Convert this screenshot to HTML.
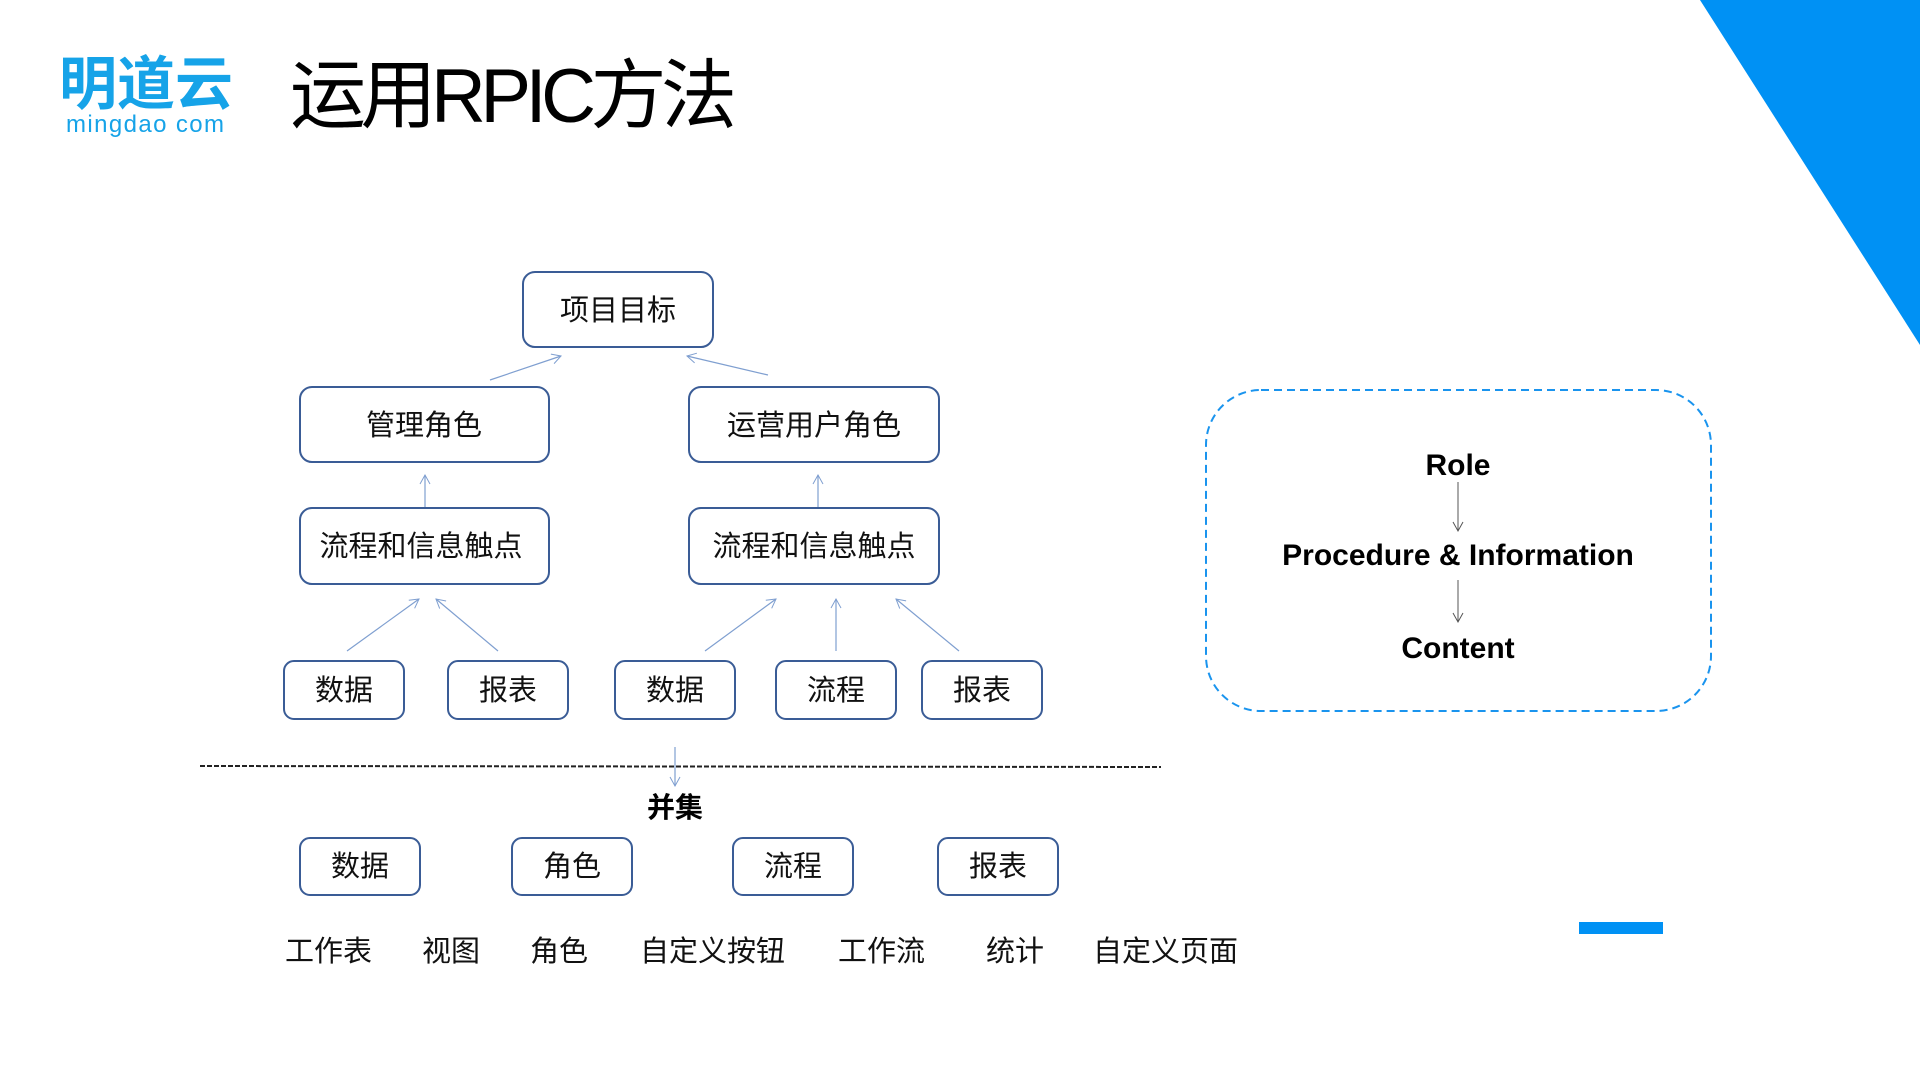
<!DOCTYPE html>
<html><head><meta charset="utf-8"><style>
html,body{margin:0;padding:0;background:#fff;}
body{width:1920px;height:1080px;position:relative;overflow:hidden;}
svg{position:absolute;left:0;top:0;}
</style></head><body>
<svg width="1920" height="1080" viewBox="0 0 1920 1080" xmlns="http://www.w3.org/2000/svg">
<defs>
<marker id="a" markerWidth="12" markerHeight="12" refX="10" refY="6" orient="auto" markerUnits="userSpaceOnUse">
<path d="M1,1 L10,6 L1,11" fill="none" stroke="#7f9fd0" stroke-width="1"/>
</marker>
<marker id="b" markerWidth="12" markerHeight="12" refX="10" refY="6" orient="auto" markerUnits="userSpaceOnUse">
<path d="M1,1 L10,6 L1,11" fill="none" stroke="#555" stroke-width="1"/>
</marker>
</defs>
<polygon points="1700,0 1920,0 1920,345" fill="#0091f4"/>
<text x="59" y="104" font-family="'Liberation Sans','Noto Sans CJK SC',sans-serif" font-weight="bold" font-size="58" fill="#16a3e8" textLength="174">明道云</text>
<text x="66" y="132" font-family="'Liberation Sans',sans-serif" font-size="24" fill="#16a3e8" textLength="158" lengthAdjust="spacing">mingdao com</text>
<text x="290" y="122" font-family="'Liberation Sans','Noto Sans CJK SC',sans-serif" font-size="76" fill="#000" textLength="447" lengthAdjust="spacing">运用RPIC方法</text>

<g fill="#fff" stroke="#3a5c96" stroke-width="2">
<rect x="523" y="272" width="190" height="75" rx="12"/>
<rect x="300" y="387" width="249" height="75" rx="12"/>
<rect x="689" y="387" width="250" height="75" rx="12"/>
<rect x="300" y="508" width="249" height="76" rx="12"/>
<rect x="689" y="508" width="250" height="76" rx="12"/>
<rect x="284" y="661" width="120" height="58" rx="10"/>
<rect x="448" y="661" width="120" height="58" rx="10"/>
<rect x="615" y="661" width="120" height="58" rx="10"/>
<rect x="776" y="661" width="120" height="58" rx="10"/>
<rect x="922" y="661" width="120" height="58" rx="10"/>
<rect x="300" y="838" width="120" height="57" rx="10"/>
<rect x="512" y="838" width="120" height="57" rx="10"/>
<rect x="733" y="838" width="120" height="57" rx="10"/>
<rect x="938" y="838" width="120" height="57" rx="10"/>
</g>
<g font-family="'Liberation Sans','Noto Sans CJK SC',sans-serif" font-size="29" fill="#111" text-anchor="middle">
<text x="618" y="320">项目目标</text>
<text x="424" y="435">管理角色</text>
<text x="814" y="435">运营用户角色</text>
<text x="421" y="556">流程和信息触点</text>
<text x="814" y="556">流程和信息触点</text>
<text x="344" y="700">数据</text>
<text x="508" y="700">报表</text>
<text x="675" y="700">数据</text>
<text x="836" y="700">流程</text>
<text x="982" y="700">报表</text>
<text x="360" y="876">数据</text>
<text x="572" y="876">角色</text>
<text x="793" y="876">流程</text>
<text x="998" y="876">报表</text>
</g>
<text x="675" y="817" font-family="'Liberation Sans','Noto Sans CJK SC',sans-serif" font-weight="bold" font-size="28" text-anchor="middle" fill="#000">并集</text>
<g font-family="'Liberation Sans','Noto Sans CJK SC',sans-serif" font-size="29" fill="#111">
<text x="285" y="961">工作表</text>
<text x="422" y="961">视图</text>
<text x="530" y="961">角色</text>
<text x="640" y="961">自定义按钮</text>
<text x="838" y="961">工作流</text>
<text x="986" y="961">统计</text>
<text x="1093" y="961">自定义页面</text>
</g>
<g stroke="#7f9fd0" stroke-width="1.2" fill="none" marker-end="url(#a)">
<line x1="490" y1="380" x2="561" y2="356"/>
<line x1="768" y1="375" x2="687" y2="356"/>
<line x1="425" y1="507" x2="425" y2="475"/>
<line x1="818" y1="507" x2="818" y2="475"/>
<line x1="347" y1="651" x2="419" y2="599"/>
<line x1="498" y1="651" x2="436" y2="599"/>
<line x1="705" y1="651" x2="776" y2="599"/>
<line x1="836" y1="651" x2="836" y2="599"/>
<line x1="959" y1="651" x2="896" y2="599"/>
<line x1="675" y1="747" x2="675" y2="786"/>
</g>
<line x1="200" y1="766" x2="1161" y2="767" stroke="#222" stroke-width="2" stroke-dasharray="5,2"/>
<rect x="1206" y="390" width="505" height="321" rx="55" fill="none" stroke="#1a94ee" stroke-width="2" stroke-dasharray="8,5"/>
<g font-family="'Liberation Sans',sans-serif" font-weight="bold" font-size="30" text-anchor="middle" fill="#000">
<text x="1458" y="475">Role</text>
<text x="1458" y="565">Procedure &amp; Information</text>
<text x="1458" y="658">Content</text>
</g>
<g stroke="#555" stroke-width="1" marker-end="url(#b)">
<line x1="1458" y1="482" x2="1458" y2="531"/>
<line x1="1458" y1="580" x2="1458" y2="622"/>
</g>
<rect x="1579" y="922" width="84" height="12" fill="#0091f4"/>
</svg>
</body></html>
